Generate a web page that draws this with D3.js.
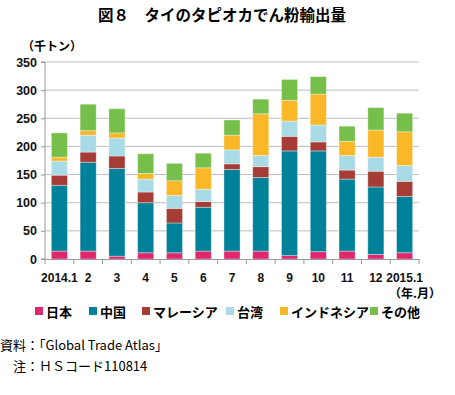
<!DOCTYPE html>
<html>
<head>
<meta charset="utf-8">
<script src="https://cdn.jsdelivr.net/npm/d3@7"></script>
<style>
  body { margin: 0; background: #fff; }
  svg { display: block; font-family: "Noto Sans CJK JP", sans-serif; }
</style>
</head>
<body>
<script>
// months on the x axis
const months = ['2014.1', '2', '3', '4', '5', '6', '7', '8', '9', '10', '11', '12', '2015.1'];
const seriesNames = ['日本', '中国', 'マレーシア', '台湾', 'インドネシア', 'その他'];
const seriesColors = ['#e0266c', '#00819a', '#a53c36', '#a8dbe6', '#fab727', '#77bf4b'];
// thousand tons
const japan     = [14, 14, 5, 11, 11, 14, 14, 14, 6, 13, 14, 8, 11];
const china     = [117, 158, 156, 89, 53, 78, 145, 131, 186, 179, 128, 120, 100];
const malaysia  = [18, 18, 22, 19, 26, 10, 10, 19, 26, 16, 16, 28, 27];
const taiwan    = [25, 30, 32, 23, 23, 22, 25, 20, 27, 30, 26, 25, 28];
const indonesia = [7, 8, 9, 10, 26, 38, 26, 74, 37, 55, 25, 48, 60];
const others    = [43, 47, 43, 35, 31, 26, 27, 26, 37, 31, 27, 40, 33];
const yTicks = [0, 50, 100, 150, 200, 250, 300, 350];

const seriesValues = [japan, china, malaysia, taiwan, indonesia, others];
const rows = months.map((m, i) => {
  const r = { month: m };
  seriesNames.forEach((s, j) => { r[s] = seriesValues[j][i]; });
  return r;
});

const W = 455, H = 395;
const margin = { top: 62, left: 45, right: 36, bottom: 136 };
const innerW = W - margin.left - margin.right;
const innerH = H - margin.top - margin.bottom;

const svg = d3.select('body').append('svg')
  .attr('width', W)
  .attr('height', H);

// title
svg.append('text')
  .attr('x', 222).attr('y', 21)
  .attr('text-anchor', 'middle')
  .attr('font-size', 15.5).attr('font-weight', 'bold')
  .text('図８　タイのタピオカでん粉輸出量');

svg.append('text')
  .attr('x', 22).attr('y', 51)
  .attr('font-size', 12).attr('font-weight', 'bold')
  .text('（千トン）');

const x = d3.scaleBand().domain(months).range([0, innerW]).paddingInner(0.44).paddingOuter(0.22);
const y = d3.scaleLinear().domain([0, 350]).range([innerH, 0]);

const g = svg.append('g').attr('transform', `translate(${margin.left},${margin.top})`);

// gridlines
g.selectAll('.grid').data(yTicks.slice(1)).enter().append('line')
  .attr('x1', 0).attr('x2', innerW)
  .attr('y1', d => y(d)).attr('y2', d => y(d))
  .attr('stroke', '#bdbdbd').attr('stroke-width', 1);

const stack = d3.stack().keys(seriesNames)(rows);

g.selectAll('.layer').data(stack).enter().append('g')
  .attr('fill', (d, i) => seriesColors[i])
  .selectAll('rect').data(d => d).enter().append('rect')
  .attr('x', d => x(d.data.month))
  .attr('width', x.bandwidth())
  .attr('y', d => y(d[1]))
  .attr('height', d => y(d[0]) - y(d[1]))
  .attr('stroke', 'rgba(255,255,255,0.45)')
  .attr('stroke-width', 0.8);

// y axis
const yAxis = g.append('g')
  .call(d3.axisLeft(y).tickValues(yTicks).tickSize(4).tickPadding(4));
yAxis.select('.domain').attr('stroke', '#999').attr('d', `M-4,${innerH}H0V0H-4`);
yAxis.selectAll('.tick line').attr('stroke', '#999');
yAxis.selectAll('text')
  .attr('font-size', 12.5).attr('font-weight', 'bold').attr('fill', '#111')
  .attr('font-family', '"Liberation Sans", Arial, sans-serif');

// x axis with ticks on band boundaries
const xAxis = g.append('g').attr('transform', `translate(0,${innerH})`)
  .call(d3.axisBottom(x).tickSize(0).tickPadding(14));
xAxis.select('.domain').attr('stroke', '#999');
xAxis.selectAll('text')
  .attr('font-size', 12).attr('font-weight', 'bold').attr('fill', '#111')
  .attr('font-family', '"Liberation Sans", Arial, sans-serif');
xAxis.selectAll('.bnd').data(d3.range(months.length + 1)).enter().append('line')
  .attr('x1', i => i * innerW / months.length).attr('x2', i => i * innerW / months.length)
  .attr('y1', 0).attr('y2', 5)
  .attr('stroke', '#999');

svg.append('text')
  .attr('x', 441).attr('y', 298)
  .attr('text-anchor', 'end')
  .attr('font-size', 12).attr('font-weight', 'bold')
  .text('（年.月）');

// legend
const legendX = [35, 89, 142, 226, 280, 370];
const legend = svg.selectAll('.leg').data(seriesNames).enter().append('g')
  .attr('transform', (d, i) => `translate(${legendX[i]},312)`);
legend.append('rect')
  .attr('x', 0).attr('y', -5).attr('width', 8).attr('height', 8)
  .attr('fill', (d, i) => seriesColors[i]);
legend.append('text')
  .attr('x', 11).attr('y', 4.5)
  .attr('font-size', 13).attr('font-weight', 'bold')
  .text(d => d);

// notes
svg.append('text')
  .attr('x', 0).attr('y', 350)
  .attr('font-size', 13)
  .text('資料：「Global Trade Atlas」');
svg.append('text')
  .attr('x', 13).attr('y', 371)
  .attr('font-size', 13)
  .text('注：ＨＳコード110814');
</script>
</body>
</html>
